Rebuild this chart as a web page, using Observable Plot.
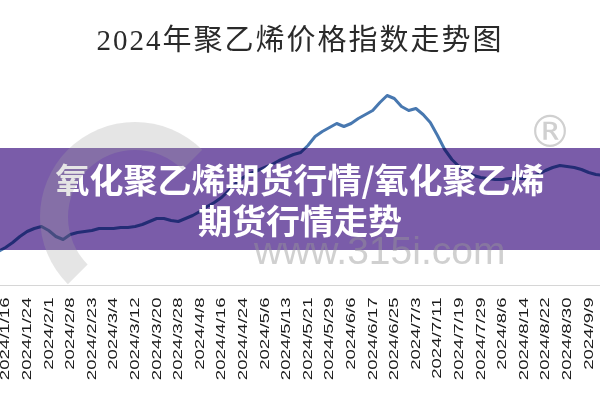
<!DOCTYPE html>
<html>
<head>
<meta charset="utf-8">
<script src="https://cdn.jsdelivr.net/npm/d3@7"></script>
<script src="https://cdn.jsdelivr.net/npm/@observablehq/plot@0.6"></script>
<style>
html,body{margin:0;padding:0;background:#fff;}
#wrap{position:relative;width:600px;height:400px;overflow:hidden;font-family:"Noto Sans CJK SC","Noto Sans",sans-serif;background:#fff;}
#title{position:absolute;left:0;top:20px;width:600px;text-align:center;font-family:"Liberation Serif","Noto Sans CJK SC",serif;font-size:29px;letter-spacing:2px;color:#2a2a2a;line-height:40px;z-index:1;}
#chart{position:absolute;left:0;top:0;z-index:1;}
#band{position:absolute;left:0;top:148px;width:600px;height:102px;background:#7a5ca9;mix-blend-mode:multiply;z-index:2;}
#bandText{position:absolute;left:0;top:158px;width:600px;text-align:center;color:#fff;font-weight:bold;font-size:34px;line-height:41px;z-index:3;}
#wm1{position:absolute;left:254px;top:239px;font-family:"Liberation Sans",Arial,sans-serif;font-size:39px;color:rgba(150,150,150,0.45);z-index:4;line-height:24px;}
#wm2{position:absolute;left:528px;top:107px;font-family:"DejaVu Sans",sans-serif;font-size:44px;color:rgba(150,150,150,0.45);z-index:4;line-height:50px;}
#wm3{position:absolute;left:40px;top:122px;width:134px;height:134px;border-radius:50%;border:28px solid rgba(160,160,160,0.28);border-right-color:transparent;border-bottom-color:transparent;z-index:4;}
</style>
</head>
<body>
<div id="wrap">
  <div id="title">2024年聚乙烯价格指数走势图</div>
  <div id="chart"></div>
  <div id="band"></div>
  <div id="bandText">氧化聚乙烯期货行情/氧化聚乙烯<br>期货行情走势</div>
  <div id="wm3"></div>
  <div id="wm1">www.315i.com</div>
  <div id="wm2">®</div>
</div>
<script>
// Tick labels shown under the x axis (one every few trading days)
const tickLabels = [
  "2024/1/16","2024/1/24","2024/2/1","2024/2/8","2024/2/23","2024/3/4","2024/3/12",
  "2024/3/20","2024/3/28","2024/4/8","2024/4/16","2024/4/24","2024/5/6","2024/5/13",
  "2024/5/21","2024/5/29","2024/6/6","2024/6/17","2024/6/25","2024/7/3","2024/7/11",
  "2024/7/19","2024/7/29","2024/8/6","2024/8/14","2024/8/22","2024/8/30","2024/9/9"
];
// Polyethylene price index: three samples per label interval,
// the first sample one step before the first label.
const values = [
  7340,7380,7430,7490,7540,7570,7590,7550,7490,7460,
  7510,7530,7540,7550,7570,7570,7570,7580,7580,7590,
  7610,7640,7670,7670,7650,7640,7670,7700,7740,7790,
  7830,7880,7950,8020,8080,8120,8150,8180,8210,8250,
  8280,8310,8330,8400,8490,8540,8580,8620,8590,8620,
  8670,8710,8750,8830,8900,8870,8790,8750,8770,8710,
  8630,8500,8360,8260,8190,8140,8100,8080,8070,8060,
  8060,8070,8070,8070,8090,8110,8150,8180,8200,8190,
  8180,8160,8130,8110,8100
];
const samplesPerLabel = 3;
const data = values.map((v, i) => ({pos: (i - 1) / samplesPerLabel, value: v}));

const chart = Plot.plot({
  width: 600,
  height: 400,
  marginTop: 0,
  marginBottom: 115,
  marginLeft: 0,
  marginRight: 0,
  style: {fontFamily: "'Liberation Sans', Arial, sans-serif", background: "transparent"},
  x: {domain: [-0.2315, 27.5463]},
  y: {domain: [7000, 9850], axis: null},
  marks: [
    Plot.ruleY([7000], {stroke: "#d6d6d6", strokeWidth: 1}),
    Plot.line(data, {x: "pos", y: "value", stroke: "#4878b0", strokeWidth: 3, strokeLinejoin: "round"}),
    Plot.axisX(d3.range(tickLabels.length), {
      tickFormat: i => tickLabels[i],
      tickRotate: -90,
      tickSize: 0,
      tickPadding: 12,
      fontSize: 12,
      fill: "#1a1a1a",
      label: null
    })
  ]
});
chart.querySelectorAll('g[aria-label="x-axis tick label"] text').forEach(t => {
  t.setAttribute("transform", (t.getAttribute("transform") || "") + " scale(1.55,1)");
});
document.getElementById("chart").appendChild(chart);
</script>
</body>
</html>
